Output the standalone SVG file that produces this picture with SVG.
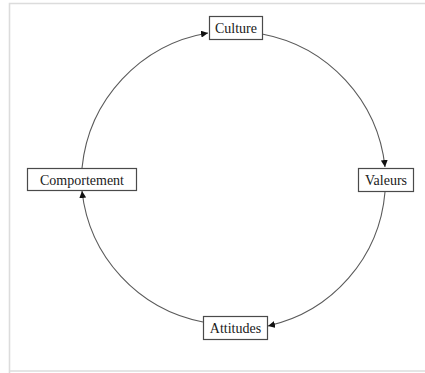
<svg xmlns="http://www.w3.org/2000/svg" width="425" height="373" viewBox="0 0 425 373">
<style>
.box{fill:#fff;stroke:#4a4a4a;stroke-width:1.2}
.lbl{font-family:"Liberation Serif","Times New Roman",serif;font-size:14px;fill:#1a1a1a;text-anchor:middle}
.arc{fill:none;stroke:#5a5a5a;stroke-width:1.1;marker-end:url(#ah)}
</style>
<defs>
<marker id="ah" viewBox="0 0 10 10" refX="10" refY="5" markerWidth="7" markerHeight="7" markerUnits="userSpaceOnUse" orient="auto">
<path d="M0,0 L10,5 L0,10 z" fill="#111"/>
</marker>
</defs>
<rect width="425" height="373" fill="#fff"/>
<path d="M9.5,430 V3.5 H430" fill="none" stroke="#dcdcdc" stroke-width="1.6"/>
<line x1="9" y1="371" x2="430" y2="371" stroke="#dcdcdc" stroke-width="1.6"/>
<g id="connectors">
<path class="arc" d="M82,168 A152,152 0 0 1 208,33"/>
<path class="arc" d="M262,34 A152,152 0 0 1 385,167"/>
<path class="arc" d="M385,192 A150,150 0 0 1 268,326"/>
<path class="arc" d="M203,322 A150,150 0 0 1 82,191"/>
</g>
<g id="culture">
<rect class="box" x="209.5" y="16.5" width="53" height="23"/>
<text class="lbl" x="236" y="33">Culture</text>
</g>
<g id="valeurs">
<rect class="box" x="358.5" y="168.5" width="55" height="23"/>
<text class="lbl" x="386" y="185">Valeurs</text>
</g>
<g id="attitudes">
<rect class="box" x="203.5" y="316.5" width="64" height="23"/>
<text class="lbl" x="235.5" y="333">Attitudes</text>
</g>
<g id="comportement">
<rect class="box" x="27.5" y="168.5" width="109" height="22"/>
<text class="lbl" x="82" y="185">Comportement</text>
</g>
</svg>
